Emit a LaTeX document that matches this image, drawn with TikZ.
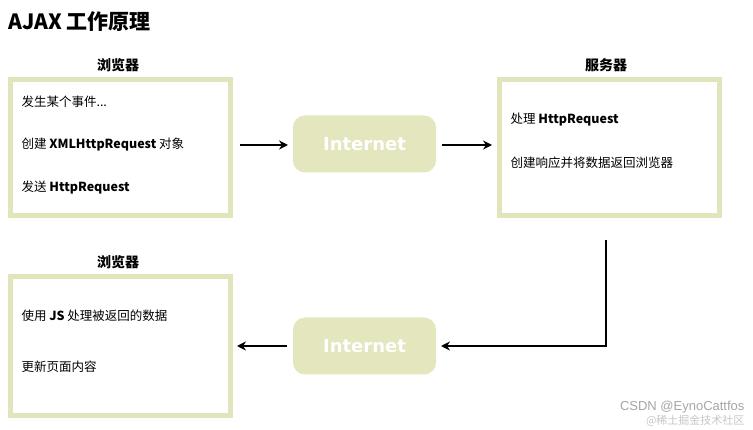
\documentclass[tikz,border=0pt]{standalone}
\usepackage{fontspec}
\usetikzlibrary{arrows.meta}
\setmainfont{Liberation Sans}
\newfontfamily\cjk{Noto Sans CJK SC}
\newfontfamily\netfont{DejaVu Sans}
\definecolor{frame}{HTML}{E2E5BC}
\definecolor{net}{HTML}{E4E6BE}
\begin{document}
\begin{tikzpicture}[x=1pt,y=-1pt,
  panel/.style={draw=frame,line width=5pt,fill=white},
  netbox/.style={fill=net,rounded corners=12pt,minimum width=143pt,minimum height=57pt,text=white,font=\netfont\bfseries\fontsize{18}{20}\selectfont},
  lbl/.style={anchor=west,font=\cjk\fontsize{12.5}{14}\selectfont},
  head/.style={font=\cjk\bfseries\fontsize{14}{16}\selectfont},
  arr/.style={line width=2pt,-{Stealth[length=9pt,width=9pt]}}]
\useasboundingbox (0,0) rectangle (753,430);
\node[anchor=west,font=\cjk\bfseries\fontsize{21}{24}\selectfont] (title) at (5,22) {AJAX 工作原理};
\node[head] (h1) at (118,65) {浏览器};
\node[head] (h2) at (606,65) {服务器};
\node[head] (h3) at (118,262) {浏览器};
\draw[panel] (10,80) rectangle (230,216);
\draw[panel] (499,80) rectangle (719,216);
\draw[panel] (10,277) rectangle (230,416);
\node[lbl] (t1) at (18,102) {发生某个事件...};
\node[lbl] (t2) at (18,145) {创建 \textbf{XMLHttpRequest} 对象};
\node[lbl] (t3) at (18,188) {发送 \textbf{HttpRequest}};
\node[lbl] (t4) at (507,120) {处理 \textbf{HttpRequest}};
\node[lbl] (t5) at (507,163) {创建响应并将数据返回浏览器};
\node[lbl] (t6) at (18,316) {使用 \textbf{JS} 处理被返回的数据};
\node[lbl] (t7) at (18,367) {更新页面内容};
\node[netbox] (n1) at (364.5,144) {Internet};
\node[netbox] (n2) at (364.5,346) {Internet};
\coordinate (a1) at (240,145); \coordinate (b1) at (288,145);
\coordinate (a2) at (442,145); \coordinate (b2) at (492,145);
\coordinate (c0) at (606,240); \coordinate (c1) at (606,346); \coordinate (c2) at (441,346);
\coordinate (a3) at (287,346); \coordinate (b3) at (237,346);
\draw[arr] (a1) -- (b1);
\draw[arr] (a2) -- (b2);
\draw[arr] (c0) -- (c1) -- (c2);
\draw[arr] (a3) -- (b3);
\node[anchor=east,text=gray!70,font=\fontsize{13}{15}\selectfont] (wm1) at (748,407) {CSDN @EynoCattfos};
\node[anchor=east,text=gray!45,font=\cjk\fontsize{11}{13}\selectfont] (wm2) at (748,421) {@稀土掘金技术社区};
\end{tikzpicture}
\end{document}
